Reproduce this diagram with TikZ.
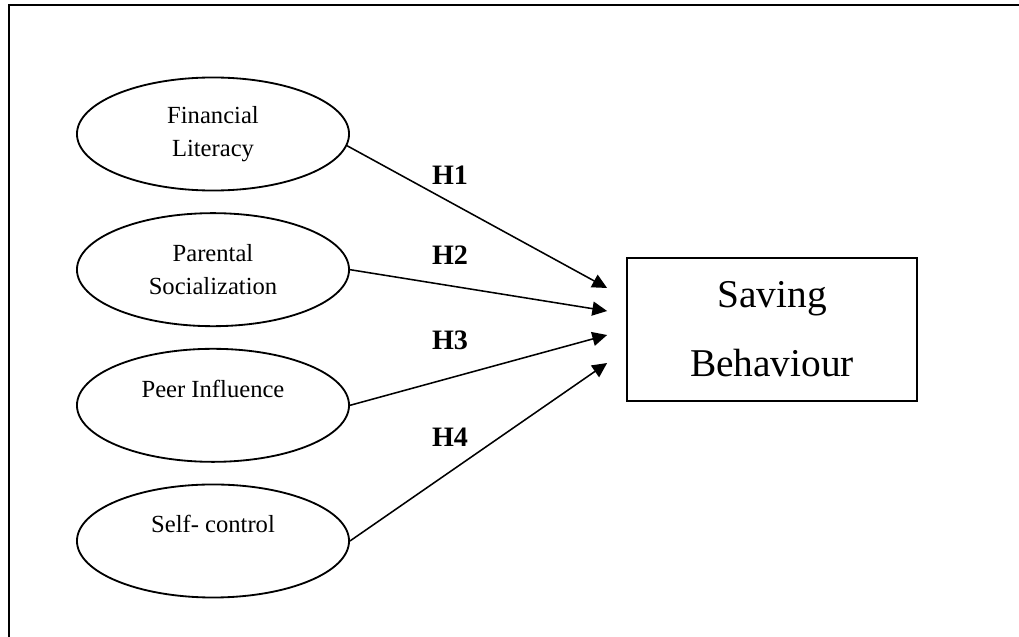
\documentclass[tikz,border=0pt]{standalone}
\usepackage{fontspec}
\setmainfont{Liberation Serif}
\usetikzlibrary{positioning,calc,arrows.meta,shapes.geometric}

\tikzset{
	factor/.style={draw, ellipse, line width=1.3pt, minimum width=6.8cm, minimum height=2.825cm,
		inner sep=0pt, align=center, font=\fontsize{17.5}{24}\selectfont},
	outcome/.style={draw, rectangle, line width=1.2pt, minimum width=7.25cm, minimum height=3.575cm,
		align=center, font=\fontsize{28}{49}\selectfont},
	hyp/.style={font=\fontsize{20}{24}\selectfont\bfseries},
	link/.style={line width=1.1pt, -{Triangle[length=10.5pt,width=10pt]}}
}

\begin{document}
\begin{tikzpicture}[x=0.025cm, y=-0.025cm]
	\useasboundingbox (0,0) rectangle (1019,637);
	
	% frame (only top and left edges show)
	\draw[line width=1.4pt] (9,637) -- (9,5) -- (1019,5);
	
	\node[factor] (fl) at (213,134) {Financial\\Literacy};
	\node[factor, below=0.52cm of fl] (ps) {Parental\\Socialization};
	\node[factor, below=0.52cm of ps] (pi) {Peer Influence\\\mbox{}};
	\node[factor, below=0.52cm of pi] (sc) {Self- control\\\mbox{}};
	
	\node[outcome] (sb) at (772,329.5) {Saving\\Behaviour};
	
	\coordinate (t1) at ($(sb.west)+(-19,-41.5)$);
	\coordinate (t2) at ($(sb.west)+(-19,-18.5)$);
	\coordinate (t3) at ($(sb.west)+(-19,5.5)$);
	\coordinate (t4) at ($(sb.west)+(-19,33.5)$);
	
	\node[hyp] (h1) at (450,175) {H1};
	\node[hyp] (h2) at (450,255) {H2};
	\node[hyp] (h3) at (450,340) {H3};
	\node[hyp] (h4) at (450,437) {H4};
	
	\draw[link] (fl.-5) -- (t1);
	\draw[link] (ps.east) -- (t2);
	\draw[link] (pi.east) -- (t3);
	\draw[link] (sc.east) -- (t4);
\end{tikzpicture}
\end{document}
